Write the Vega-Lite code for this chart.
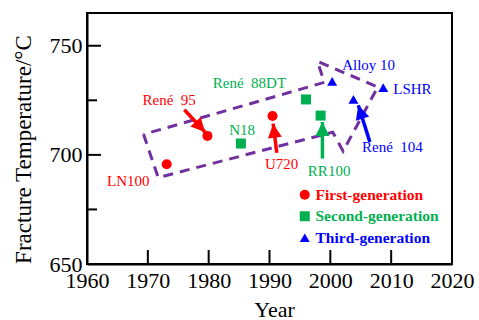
{
  "$schema": "https://vega.github.io/schema/vega-lite/v6.json",
  "width": 365,
  "height": 251,
  "autosize": {"type": "none"},
  "padding": {"left": 87, "top": 13, "right": 27, "bottom": 56},
  "background": "white",
  "config": {
    "view": {"stroke": "black", "strokeWidth": 2},
    "font": "Liberation Serif",
    "axis": {"grid": false, "ticks": false, "domainColor": "black", "domainWidth": 2, "labelColor": "black", "titleColor": "black", "labelFont": "Liberation Serif", "titleFont": "Liberation Serif", "labelFontSize": 22, "titleFontSize": 22, "titleFontWeight": "normal", "labelFlush": false, "labelOverlap": false}
  },
  "datasets": {
    "alloys": [
      {"name": "LN100", "year": 1973.1, "temp": 695.7, "gen": "First-generation", "lx": 1966.8, "ly": 688.1},
      {"name": "René\u00a0\u00a095", "year": 1979.8, "temp": 708.7, "gen": "First-generation", "lx": 1973.5, "ly": 725.0},
      {"name": "U720", "year": 1990.5, "temp": 717.8, "gen": "First-generation", "lx": 1992.0, "ly": 695.7},
      {"name": "N18", "year": 1985.3, "temp": 705.2, "gen": "Second-generation", "lx": 1985.5, "ly": 711.3},
      {"name": "René\u00a0\u00a088DT", "year": 1996.0, "temp": 725.4, "gen": "Second-generation", "lx": 1986.7, "ly": 732.8},
      {"name": "RR100", "year": 1998.4, "temp": 718.0, "gen": "Second-generation", "lx": 1999.8, "ly": 692.7},
      {"name": "Alloy 10", "year": 2000.3, "temp": 733.7, "gen": "Third-generation", "lx": 2006.3, "ly": 741.4},
      {"name": "René\u00a0\u00a0104", "year": 2003.8, "temp": 725.4, "gen": "Third-generation", "lx": 2010.2, "ly": 703.6},
      {"name": "LSHR", "year": 2008.7, "temp": 730.8, "gen": "Third-generation", "lx": 2013.5, "ly": 730.3}
    ],
    "arrows": [
      {"fx": 1976.0, "fy": 720.7, "tx": 1979.4, "ty": 710.5, "gen": "First-generation"},
      {"fx": 1991.2, "fy": 700.9, "tx": 1990.6, "ty": 714.3, "gen": "First-generation"},
      {"fx": 1998.7, "fy": 698.3, "tx": 1998.7, "ty": 715.1, "gen": "Second-generation"},
      {"fx": 2006.5, "fy": 705.9, "tx": 2004.6, "ty": 722.7, "gen": "Third-generation"}
    ],
    "outline": [
      {"i": 1, "year": 1969.3, "temp": 709.4},
      {"i": 2, "year": 1971.7, "temp": 689.6},
      {"i": 3, "year": 2000.4, "temp": 710.4},
      {"i": 4, "year": 2002.1, "temp": 701.7},
      {"i": 5, "year": 2007.8, "temp": 731.1},
      {"i": 6, "year": 1997.9, "temp": 742.8},
      {"i": 7, "year": 1999.0, "temp": 733.2},
      {"i": 8, "year": 1969.3, "temp": 709.4}
    ]
  },
  "layer": [
    {
      "data": {"name": "outline"},
      "mark": {"type": "line", "color": "#7030a0", "strokeWidth": 3, "strokeDash": [10, 7], "strokeJoin": "miter"},
      "encoding": {
        "x": {"field": "year", "type": "quantitative", "scale": {"domain": [1960, 2020], "nice": false, "zero": false},
          "axis": {"values": [1960, 1970, 1980, 1990, 2000, 2010, 2020], "format": "d", "labelPadding": 6, "labelBaseline": "top", "labelFont": "Liberation Serif", "labelFontSize": 22, "labelFlush": false, "labelOverlap": false, "title": "Year", "titleX": 187, "titleY": 52, "titleBaseline": "alphabetic", "titleAnchor": null}},
        "y": {"field": "temp", "type": "quantitative", "scale": {"domain": [650, 765], "nice": false, "zero": false},
          "axis": {"values": [650, 700, 750], "labelPadding": 5, "labelFont": "Liberation Serif", "labelFontSize": 22, "labelFlush": false, "labelOverlap": false, "title": "Fracture Temperature/°C", "titleFontSize": 23, "titleX": -64, "titleY": 136, "titleAngle": -90, "titleAlign": "center", "titleBaseline": "middle"}},
        "order": {"field": "i", "type": "quantitative"}
      }
    },
    {
      "data": {"values": [{"t": 1970}, {"t": 1980}, {"t": 1990}, {"t": 2000}, {"t": 2010}]},
      "mark": {"type": "rule", "color": "black", "strokeWidth": 2, "y2Offset": -14},
      "encoding": {
        "x": {"field": "t", "type": "quantitative"},
        "y": {"datum": 650},
        "y2": {"datum": 650}
      }
    },
    {
      "data": {"values": [{"t": 700}, {"t": 750}]},
      "mark": {"type": "rule", "color": "black", "strokeWidth": 2, "x2Offset": 14},
      "encoding": {
        "y": {"field": "t", "type": "quantitative"},
        "x": {"datum": 1960},
        "x2": {"datum": 1960}
      }
    },
    {
      "data": {"values": [{"t": 675}, {"t": 725}]},
      "mark": {"type": "rule", "color": "black", "strokeWidth": 2, "x2Offset": 10},
      "encoding": {
        "y": {"field": "t", "type": "quantitative"},
        "x": {"datum": 1960},
        "x2": {"datum": 1960}
      }
    },
    {
      "data": {"name": "arrows"},
      "mark": {"type": "rule", "strokeWidth": 3.5},
      "encoding": {
        "x": {"field": "fx", "type": "quantitative"},
        "y": {"field": "fy", "type": "quantitative"},
        "x2": {"field": "tx"},
        "y2": {"field": "ty"},
        "color": {"field": "gen", "type": "nominal"}
      }
    },
    {
      "data": {"name": "arrows"},
      "mark": {"type": "point", "shape": "M0,0L0.5,1L-0.5,1Z", "size": 784, "filled": true, "opacity": 1,
        "angle": {"expr": "atan2(scale('x', datum.tx) - scale('x', datum.fx), scale('y', datum.fy) - scale('y', datum.ty)) * 180 / PI"}},
      "encoding": {
        "x": {"field": "tx", "type": "quantitative"},
        "y": {"field": "ty", "type": "quantitative"},
        "color": {"field": "gen", "type": "nominal"}
      }
    },
    {
      "data": {"name": "alloys"},
      "mark": {"type": "text", "font": "Liberation Serif", "fontSize": 15, "align": "center", "baseline": "middle"},
      "encoding": {
        "x": {"field": "lx", "type": "quantitative"},
        "y": {"field": "ly", "type": "quantitative"},
        "text": {"field": "name"},
        "color": {"field": "gen", "type": "nominal"}
      }
    },
    {
      "data": {"name": "alloys"},
      "mark": {"type": "point", "filled": true, "opacity": 1, "size": 100},
      "encoding": {
        "x": {"field": "year", "type": "quantitative"},
        "y": {"field": "temp", "type": "quantitative"},
        "color": {"field": "gen", "type": "nominal",
          "scale": {"domain": ["First-generation", "Second-generation", "Third-generation"], "range": ["#ff0000", "#00b050", "#0000ff"]},
          "legend": {"orient": "none", "legendX": 210, "legendY": 174, "title": null, "padding": 0, "labelFont": "Liberation Serif", "labelFontSize": 15.5, "labelFontWeight": "bold", "symbolSize": 100, "rowPadding": 4.5, "labelOffset": 3, "symbolStrokeWidth": 0,
            "labelColor": {"expr": "scale('color', datum.value)"}}},
        "shape": {"field": "gen", "type": "nominal",
          "scale": {"domain": ["First-generation", "Second-generation", "Third-generation"], "range": ["circle", "square", "triangle-up"]}}
      }
    }
  ]
}
